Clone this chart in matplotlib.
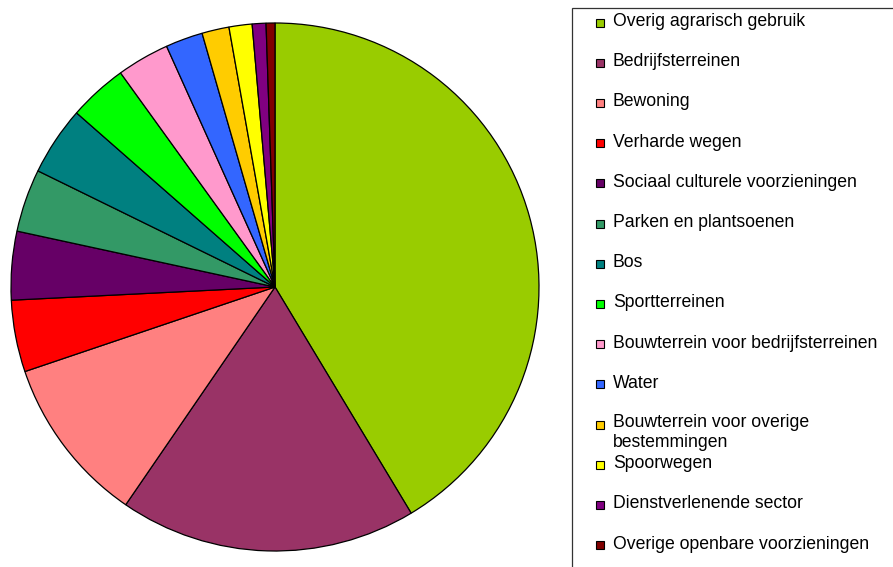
import matplotlib
matplotlib.use("Agg")
import matplotlib.pyplot as plt
from matplotlib.patches import Rectangle

plt.rcParams["font.family"] = ["Liberation Sans", "DejaVu Sans"]

# land use shares (percent)
categories = [
    "Overig agrarisch gebruik",
    "Bedrijfsterreinen",
    "Bewoning",
    "Verharde wegen",
    "Sociaal culturele voorzieningen",
    "Parken en plantsoenen",
    "Bos",
    "Sportterreinen",
    "Bouwterrein voor bedrijfsterreinen",
    "Water",
    "Bouwterrein voor overige\nbestemmingen",
    "Spoorwegen",
    "Dienstverlenende sector",
    "Overige openbare voorzieningen",
]
shares = [41.35, 18.18, 10.24, 4.39, 4.19, 3.85, 4.21, 3.59, 3.21, 2.28, 1.66, 1.41, 0.84, 0.54]
colors = [
    "#99CC00", "#993366", "#FF8080", "#FF0000", "#660066", "#339966", "#008080",
    "#00FF00", "#FF99CC", "#3366FF", "#FFCC00", "#FFFF00", "#800080", "#800000",
]

W, H = 893, 567
fig = plt.figure(figsize=(W / 100, H / 100), dpi=100)

# pie area in pixels: centre (275, 287), radius 264
cx, cy, r = 275, 287, 264
ax = fig.add_axes([(cx - r) / W, (H - cy - r) / H, 2 * r / W, 2 * r / H])
ax.pie(shares, colors=colors, startangle=90, counterclock=False,
       wedgeprops=dict(edgecolor="black", linewidth=0.9))
ax.set_xlim(-1, 1)
ax.set_ylim(-1, 1)
ax.set_aspect("equal")
ax.axis("off")

# legend frame runs off the right and bottom edges
fig.patches.append(Rectangle((572 / W, -0.1), 0.5, (H - 8) / H + 0.1,
                             transform=fig.transFigure, facecolor="white",
                             edgecolor="#333333", linewidth=0.9, zorder=0))

fs = 12.7
y0, step = 21.5, 40.2
for i, (name, col) in enumerate(zip(categories, colors)):
    y = y0 + i * step
    fig.patches.append(Rectangle((596 / W, (H - y - 5) / H), 8 / W, 8 / H,
                                 transform=fig.transFigure, facecolor=col,
                                 edgecolor="black", linewidth=0.8))
    if "\n" in name:
        fig.text(613 / W, (H - y - 9) / H, name, fontsize=fs, va="center",
                 ha="left", linespacing=1.3)
    else:
        fig.text(613 / W, (H - y) / H, name, fontsize=fs, va="center", ha="left")

fig.savefig("out.png", dpi=100, facecolor="white")
